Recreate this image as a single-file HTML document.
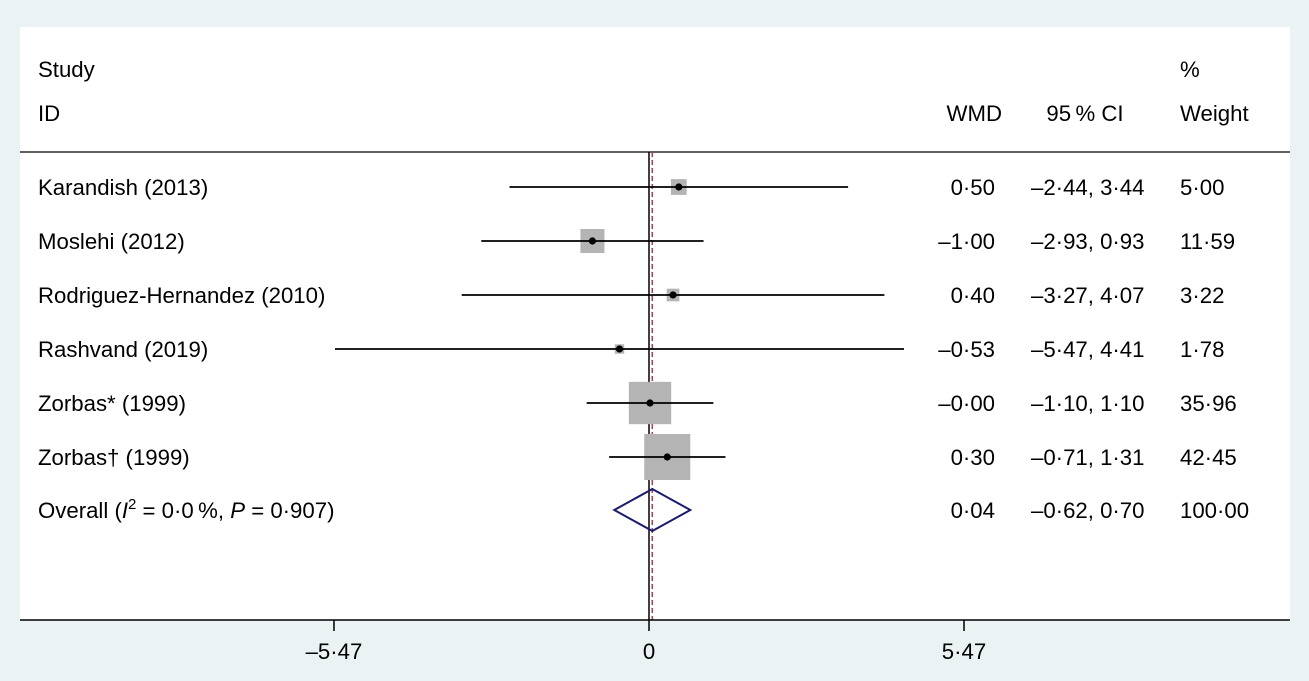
<!DOCTYPE html>
<html><head><meta charset="utf-8"><style>
body{margin:0;background:#eaf2f3;}
svg{display:block;font-family:"Liberation Sans",Arial,sans-serif;}
</style></head><body>
<svg id="chart" width="1309" height="681">
<rect x="20" y="27" width="1270" height="593" fill="#fff"/>
<g id="g" font-size="22.2" fill="#000"></g>
</svg>
<script>
const studies=["Karandish (2013)","Moslehi (2012)","Rodriguez-Hernandez (2010)","Rashvand (2019)","Zorbas* (1999)","Zorbas† (1999)"];
const wmd=[0.50,-1.00,0.40,-0.53,-0.00,0.30];
const lo=[-2.44,-2.93,-3.27,-5.47,-1.10,-0.71];
const hi=[3.44,0.93,4.07,4.41,1.10,1.31];
const weight=[5.00,11.59,3.22,1.78,35.96,42.45];
const overall=[0.04,-0.62,0.70];
const ticks=[-5.47,0,5.47];
const fmt=v=>(v<0||Object.is(v,-0)?"\u2013":"")+Math.abs(v).toFixed(2).replace(".","\u00b7");
const fmtW=v=>v.toFixed(2).replace(".","\u00b7");
const X=v=>650+v*57.59;
const rowY=i=>187+i*54;
const ns="http://www.w3.org/2000/svg";
const g=document.getElementById('g');
function mk(t,a,txt){const e=document.createElementNS(ns,t);for(const k in a)e.setAttribute(k,a[k]);if(txt!==undefined)e.textContent=txt;g.appendChild(e);return e;}
let e;
e=mk('text',{x:38,y:77},"Study");
e=mk('text',{x:38,y:121},"ID");
e=mk('text',{x:1002,y:121,'text-anchor':'end'},"WMD");
e=mk('text',{x:1085,y:121,'text-anchor':'middle'},"95\u2009% CI");
e=mk('text',{x:1180,y:77},"%");
e=mk('text',{x:1180,y:121},"Weight");
e=mk('line',{x1:20,x2:1290,y1:152,y2:152,stroke:'#000','stroke-width':1.2});
e=mk('line',{x1:X(0)-1,x2:X(0)-1,y1:152,y2:620,stroke:'#000','stroke-width':1.5});
e=mk('line',{x1:X(overall[0]),x2:X(overall[0]),y1:152,y2:620,stroke:'#a0404a','stroke-width':1.5,'stroke-dasharray':'5,3'});
studies.forEach((s,i)=>{
 const y=rowY(i);
 e=mk('text',{x:38,y:y+8},s);
 const side=46*Math.sqrt(weight[i]/42.45);
 e=mk('rect',{x:X(wmd[i])-side/2,y:y-side/2,width:side,height:side,fill:'#b4b4b4'});
 e=mk('line',{x1:X(lo[i]),x2:X(hi[i]),y1:y,y2:y,stroke:'#000','stroke-width':1.8});
 e=mk('circle',{cx:X(wmd[i]),cy:y,r:3.6,fill:'#000'});
 e=mk('text',{x:995,y:y+8,'text-anchor':'end'},fmt(wmd[i]));
 e=mk('text',{x:1031,y:y+8},fmt(lo[i])+", "+fmt(hi[i]));
 e=mk('text',{x:1180,y:y+8},fmtW(weight[i]));
});
const oy=rowY(6)-1;
e=mk('text',{x:38,y:oy+8});
e.innerHTML='Overall (<tspan font-style="italic">I</tspan><tspan dy="-9" font-size="15">2</tspan><tspan dy="9"> = 0·0\u2009%, </tspan><tspan font-style="italic">P</tspan> = 0·907)';
e=mk('polygon',{points:`${X(overall[1])},${oy} ${X(overall[0])},${oy-21} ${X(overall[2])},${oy} ${X(overall[0])},${oy+21}`,fill:'none',stroke:'#1a1a6e','stroke-width':2});
e=mk('text',{x:995,y:oy+8,'text-anchor':'end'},fmt(overall[0]));
e=mk('text',{x:1031,y:oy+8},fmt(overall[1])+", "+fmt(overall[2]));
e=mk('text',{x:1180,y:oy+8},"100·00");
e=mk('line',{x1:20,x2:1290,y1:620,y2:620,stroke:'#000','stroke-width':1.5});
ticks.forEach(t=>{
 e=mk('line',{x1:X(t)-1,x2:X(t)-1,y1:620,y2:631,stroke:'#000','stroke-width':1.5});
 e=mk('text',{x:X(t)-1,y:659,'text-anchor':'middle'},t===0?"0":fmt(t));
});
</script>
</body></html>
